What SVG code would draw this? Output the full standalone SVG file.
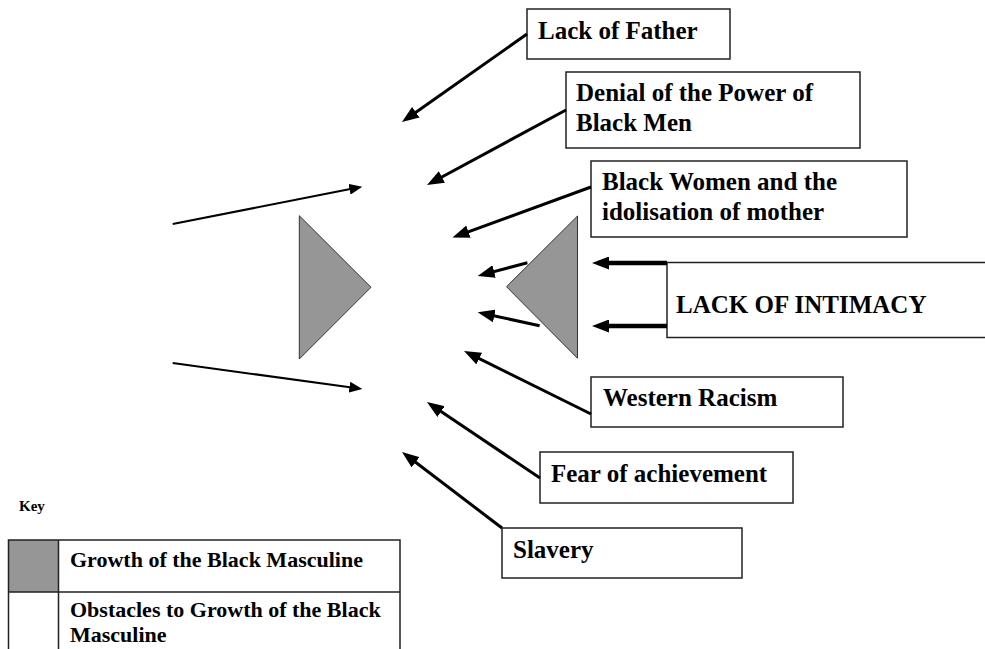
<svg xmlns="http://www.w3.org/2000/svg" width="985" height="649" viewBox="0 0 985 649">
<style>
  .box { fill: #ffffff; stroke: #222222; stroke-width: 1.5; }
  .tri { fill: #969696; stroke: #333333; stroke-width: 1; }
  .lbl { font-family: "Liberation Serif", "Times New Roman", serif; font-weight: bold; font-size: 25px; fill: #000000; }
  .key { font-family: "Liberation Serif", "Times New Roman", serif; font-weight: bold; font-size: 22px; fill: #000000; }
  .conn { stroke: #000000; fill: none; }
  .c3 { stroke-width: 3; }
  .c4 { stroke-width: 4.5; }
  .c2 { stroke-width: 2; }
</style>
<defs>
  <marker id="ah" markerUnits="userSpaceOnUse" viewBox="0 0 17 13" refX="9" refY="6.5" markerWidth="17" markerHeight="13" orient="auto">
    <path d="M0,0 L17,6.5 L0,13 z" fill="#000000"/>
  </marker>
  <marker id="ahs" markerUnits="userSpaceOnUse" viewBox="0 0 13 11" refX="6" refY="5.5" markerWidth="13" markerHeight="11" orient="auto">
    <path d="M0,0 L13,5.5 L0,11 z" fill="#000000"/>
  </marker>
</defs>

<g id="growth-left">
  <polygon class="tri" points="299.3,215.7 371,287.3 299.3,359"/>
</g>
<g id="growth-right">
  <polygon class="tri" points="577.5,216 506.5,286.7 577.5,358.3"/>
</g>

<g id="lack-of-father">
  <rect class="box" x="527" y="9" width="203" height="50"/>
  <text class="lbl" x="538" y="39">Lack of Father</text>
</g>
<g id="denial">
  <rect class="box" x="566" y="72" width="294" height="76"/>
  <text class="lbl" x="576" y="101">Denial of the Power of</text>
  <text class="lbl" x="576" y="131">Black Men</text>
</g>
<g id="black-women">
  <rect class="box" x="591" y="161" width="316" height="76"/>
  <text class="lbl" x="602" y="190">Black Women and the</text>
  <text class="lbl" x="602" y="220">idolisation of mother</text>
</g>
<g id="lack-of-intimacy">
  <rect class="box" x="667" y="262.5" width="330" height="75"/>
  <text class="lbl" x="676" y="313">LACK OF INTIMACY</text>
</g>
<g id="western-racism">
  <rect class="box" x="591" y="377" width="252" height="50"/>
  <text class="lbl" x="603" y="406">Western Racism</text>
</g>
<g id="fear-of-achievement">
  <rect class="box" x="540" y="452" width="253" height="51"/>
  <text class="lbl" x="551" y="482">Fear of achievement</text>
</g>
<g id="slavery">
  <rect class="box" x="502" y="528" width="240" height="50"/>
  <text class="lbl" x="513" y="558">Slavery</text>
</g>

<g id="connectors">
  <line class="conn c3" x1="527" y1="34" x2="408.5" y2="117.4" marker-end="url(#ah)"/>
  <line class="conn c3" x1="566" y1="110" x2="434" y2="181.2" marker-end="url(#ah)"/>
  <line class="conn c3" x1="591" y1="187" x2="460" y2="234.8" marker-end="url(#ah)"/>
  <line class="conn c3" x1="527.4" y1="262.7" x2="485.4" y2="273.9" marker-end="url(#ah)"/>
  <line class="conn c3" x1="539.6" y1="325.7" x2="485.5" y2="314" marker-end="url(#ah)"/>
  <line class="conn c4" x1="667" y1="263" x2="600" y2="263" marker-end="url(#ah)"/>
  <line class="conn c4" x1="667" y1="326" x2="600" y2="326" marker-end="url(#ah)"/>
  <line class="conn c3" x1="591" y1="414" x2="471.2" y2="354.6" marker-end="url(#ah)"/>
  <line class="conn c3" x1="540" y1="478" x2="433.6" y2="406.5" marker-end="url(#ah)"/>
  <line class="conn c3" x1="502" y1="528" x2="408.4" y2="456.8" marker-end="url(#ah)"/>
  <line class="conn c2" x1="172.7" y1="224" x2="355.4" y2="188.1" marker-end="url(#ahs)"/>
  <line class="conn c2" x1="172.7" y1="363" x2="355.4" y2="388" marker-end="url(#ahs)"/>
</g>

<g id="key">
  <text x="19" y="511" style="font-family: 'Liberation Serif', 'Times New Roman', serif; font-weight: bold; font-size: 15px;">Key</text>
  <rect x="8.5" y="540" width="50" height="52" fill="#969696"/>
  <path d="M8.5,660 L8.5,540 L400,540 L400,660 M58.5,540 L58.5,660 M8.5,592 L400,592" fill="none" stroke="#222222" stroke-width="1.5"/>
  <text class="key" x="70" y="567">Growth of the Black Masculine</text>
  <text class="key" x="70" y="617">Obstacles to Growth of the Black</text>
  <text class="key" x="70" y="642">Masculine</text>
</g>
</svg>
